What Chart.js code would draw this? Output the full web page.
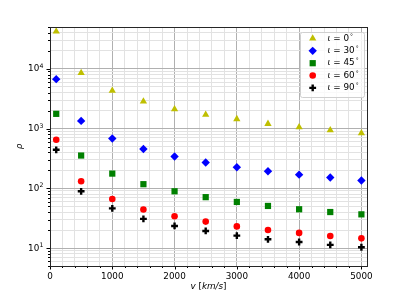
<!DOCTYPE html>
<html>
<head>
<meta charset="utf-8">
<script src="https://cdn.jsdelivr.net/npm/chart.js@4.4.0/dist/chart.umd.min.js"></script>
<style>
  html, body { margin: 0; padding: 0; background: #fff; }
</style>
</head>
<body>
<canvas id="chart" width="399" height="299"></canvas>
<script>
// Data
const velocities = [100, 500, 1000, 1500, 2000, 2500, 3000, 3500, 4000, 4500, 5000];
const rhoInc0  = [42000, 8500, 4300, 2830, 2110, 1700, 1440, 1200, 1055, 940, 838];
const rhoInc30 = [6700, 1340, 680, 455, 340, 270, 225, 193, 169, 151, 135];
const rhoInc45 = [1760, 353, 176, 117, 89, 71, 59, 50.6, 44.5, 40, 36.6];
const rhoInc60 = [650, 131, 66, 44, 34, 27.7, 23, 20, 17.9, 15.9, 14.5];
const rhoInc90 = [440, 89, 46, 30.7, 23.4, 19.3, 16.1, 14, 12.6, 11.3, 10.3];
const inclinations = ['0', '30', '45', '60', '90'];

const xTicks = [];
for (let v = 0; v <= 5000; v += 200) xTicks.push(v);
const yTicks = [];
for (let e = 0; e <= 4; e++) {
    for (let m = 1; m <= 9; m++) {
        const v = m * Math.pow(10, e);
        if (v >= 5 && v <= 50000) yTicks.push(v);
    }
}

const FONT = '"DejaVu Sans"';
const isMajorY = v => Math.abs(Math.log10(v) - Math.round(Math.log10(v))) < 1e-9;
const isMajorX = v => v % 1000 === 0;

function toPoints(values) {
    return velocities.map((v, i) => ({ x: v, y: values[i] }));
}

const datasets = [
    { data: toPoints(rhoInc0), pointStyle: 'triangle', pointRadius: 4.2, backgroundColor: '#bfbf00', borderColor: '#bfbf00', borderWidth: 0 },
    { data: toPoints(rhoInc30), pointStyle: 'rectRot', pointRadius: 4.2, backgroundColor: '#0000ff', borderColor: '#0000ff', borderWidth: 0 },
    { data: toPoints(rhoInc45), pointStyle: 'rect', pointRadius: 4.4, backgroundColor: '#008000', borderColor: '#008000', borderWidth: 0 },
    { data: toPoints(rhoInc60), pointStyle: 'circle', pointRadius: 3.3, backgroundColor: '#ff0000', borderColor: '#ff0000', borderWidth: 0 },
    { data: toPoints(rhoInc90), pointStyle: 'cross', pointRadius: 3.4, backgroundColor: '#000000', borderColor: '#000000', borderWidth: 2.4 }
];
datasets.forEach((d, i) => { d.label = 'ι = ' + inclinations[i] + '°'; d.showLine = false; });

// frame, tick marks, tick labels on y, axis titles and legend
const decorPlugin = {
    id: 'decor',
    afterDraw(chart) {
        const ctx = chart.ctx;
        const area = chart.chartArea;
        const xs = chart.scales.x, ys = chart.scales.y;
        ctx.save();

        // tick marks
        ctx.strokeStyle = '#000';
        ctx.lineWidth = 1;
        xTicks.forEach(v => {
            const px = Math.round(xs.getPixelForValue(v)) + 0.5;
            const len = isMajorX(v) ? 3.5 : 2;
            ctx.beginPath(); ctx.moveTo(px, area.bottom); ctx.lineTo(px, area.bottom + len); ctx.stroke();
        });
        yTicks.forEach(v => {
            const py = Math.round(ys.getPixelForValue(v)) + 0.5;
            const len = isMajorY(v) ? 3.5 : 2;
            ctx.beginPath(); ctx.moveTo(area.left, py); ctx.lineTo(area.left - len, py); ctx.stroke();
        });

        // y tick labels 10^n
        ctx.fillStyle = '#000';
        ctx.textBaseline = 'middle';
        yTicks.filter(isMajorY).forEach(v => {
            const py = ys.getPixelForValue(v);
            const exp = String(Math.round(Math.log10(v)));
            ctx.font = '6.2px ' + FONT;
            const ew = ctx.measureText(exp).width;
            const right = area.left - 6.5;
            ctx.textAlign = 'left';
            ctx.fillText(exp, right - ew, py - 2.6);
            ctx.font = '8.8px ' + FONT;
            ctx.textAlign = 'right';
            ctx.fillText('10', right - ew - 0.3, py + 0.2);
        });

        // frame
        ctx.strokeStyle = '#262626';
        ctx.strokeRect(Math.round(area.left) + 0.5, Math.round(area.top) + 0.5,
            Math.round(area.right - area.left), Math.round(area.bottom - area.top));

        // x axis title: v [km/s]
        const parts = [['v', true], [' [', false], ['km/s', true], [']', false]];
        let total = 0;
        parts.forEach(p => { ctx.font = (p[1] ? 'italic ' : '') + '8.8px ' + FONT; total += ctx.measureText(p[0]).width; });
        let tx = (area.left + area.right) / 2 - total / 2;
        ctx.textAlign = 'left';
        parts.forEach(p => {
            ctx.font = (p[1] ? 'italic ' : '') + '8.8px ' + FONT;
            ctx.fillText(p[0], tx, 287);
            tx += ctx.measureText(p[0]).width;
        });

        // y axis title: rho
        ctx.save();
        ctx.translate(20, (area.top + area.bottom) / 2);
        ctx.rotate(-Math.PI / 2);
        ctx.font = 'italic 8.8px ' + FONT;
        ctx.textAlign = 'center';
        ctx.fillText('ρ', 0, 0);
        ctx.restore();

        // legend
        const bx = 300.5, by = 32.5, bw = 64, bh = 65;
        ctx.beginPath();
        ctx.roundRect(bx, by, bw, bh, 2);
        ctx.fillStyle = 'rgba(255,255,255,0.8)';
        ctx.fill();
        ctx.strokeStyle = '#d0d0d0';
        ctx.lineWidth = 1;
        ctx.stroke();
        chart.data.datasets.forEach((d, i) => {
            const iy = 38.5 + i * 12.35;
            ctx.fillStyle = d.backgroundColor;
            ctx.strokeStyle = d.borderColor;
            ctx.lineWidth = d.borderWidth;
            Chart.helpers.drawPoint(ctx, { pointStyle: d.pointStyle, radius: d.pointRadius, rotation: 0, borderWidth: d.borderWidth }, 312.7, iy);
            ctx.fillStyle = '#000';
            ctx.textBaseline = 'middle';
            ctx.textAlign = 'left';
            let lx = 327.5;
            ctx.font = 'italic 8.8px ' + FONT;
            ctx.fillText('ι', lx, iy);
            lx += ctx.measureText('ι').width;
            ctx.font = '8.8px ' + FONT;
            const s = ' = ' + inclinations[i];
            ctx.fillText(s, lx, iy);
            lx += ctx.measureText(s).width + 1;
            ctx.font = '6px ' + FONT;
            ctx.fillText('°', lx, iy - 2.5);
        });

        ctx.restore();
    }
};

new Chart(document.getElementById('chart'), {
    type: 'scatter',
    data: { datasets },
    plugins: [decorPlugin],
    options: {
        responsive: false,
        devicePixelRatio: 1,
        animation: false,
        layout: { padding: { left: 0, top: 27, right: 32, bottom: 0 } },
        plugins: { legend: { display: false }, tooltip: { enabled: false } },
        scales: {
            x: {
                type: 'linear',
                min: 0,
                max: 5090,
                afterBuildTicks: s => { s.ticks = xTicks.map(v => ({ value: v })); },
                afterFit: s => { s.height = 33; },
                border: { display: false },
                grid: {
                    drawTicks: false,
                    color: c => isMajorX(c.tick.value) ? '#b0b0b0' : '#e2e2e2',
                    lineWidth: 1
                },
                ticks: {
                    padding: 5,
                    maxRotation: 0,
                    autoSkip: false,
                    color: '#000',
                    font: { family: FONT, size: 8.8 },
                    callback: v => isMajorX(v) ? String(v) : ''
                }
            },
            y: {
                type: 'logarithmic',
                min: 5,
                max: 50000,
                afterBuildTicks: s => { s.ticks = yTicks.map(v => ({ value: v })); },
                afterFit: s => { s.width = 50; },
                border: { display: false },
                grid: {
                    drawTicks: false,
                    color: c => isMajorY(c.tick.value) ? '#b0b0b0' : '#e2e2e2',
                    lineWidth: 1
                },
                ticks: { display: false }
            }
        }
    }
});
</script>
</body>
</html>
